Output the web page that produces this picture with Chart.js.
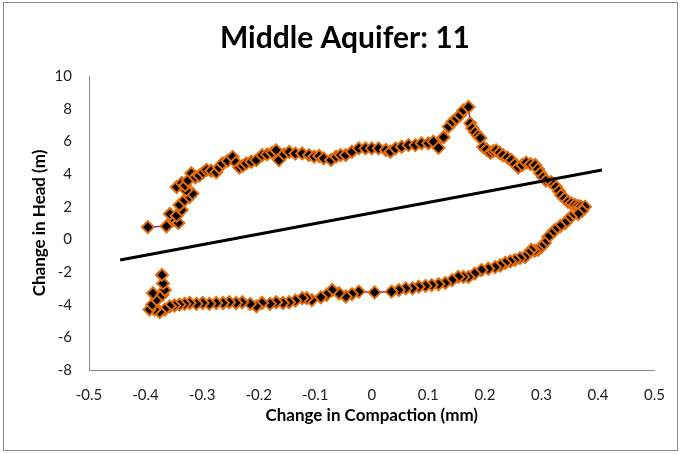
<!DOCTYPE html>
<html>
<head>
<meta charset="utf-8">
<script src="https://cdn.jsdelivr.net/npm/chart.js@4/dist/chart.umd.min.js"></script>
<style>
  body { margin: 0; background: #fff; }
  canvas { display: block; }
</style>
</head>
<body>
<canvas id="loopChart" width="681" height="454"></canvas>
<script>
// Change in compaction (mm) vs change in head (m), in time order
const compaction = [
  -0.396, -0.363, -0.350, -0.342, -0.357, -0.345, -0.336, -0.340, -0.331, -0.322,
  -0.317, -0.328, -0.345, -0.336, -0.330, -0.325, -0.319, -0.312, -0.305, -0.298,
  -0.292, -0.284, -0.275, -0.270, -0.264, -0.255, -0.246, -0.240, -0.234, -0.228,
  -0.222, -0.213, -0.204, -0.194, -0.185, -0.176, -0.169, -0.164, -0.155, -0.146,
  -0.135, -0.123, -0.111, -0.102, -0.093, -0.085, -0.072, -0.063, -0.055, -0.046,
  -0.035, -0.023, -0.011, 0.000, 0.012, 0.025, 0.033, 0.042, 0.053, 0.065,
  0.077, 0.088, 0.100, 0.109, 0.118, 0.127, 0.136, 0.143, 0.150, 0.156,
  0.162, 0.171, 0.174, 0.178, 0.183, 0.188, 0.192, 0.197, 0.203, 0.210,
  0.215, 0.220, 0.226, 0.232, 0.240, 0.247, 0.253, 0.259, 0.266, 0.273,
  0.281, 0.289, 0.294, 0.298, 0.303, 0.308, 0.317, 0.322, 0.326, 0.331,
  0.335, 0.341, 0.347, 0.353, 0.359, 0.365, 0.370, 0.377, 0.372, 0.365,
  0.352, 0.347, 0.342, 0.333, 0.324, 0.318, 0.312, 0.306, 0.300, 0.294,
  0.288, 0.282, 0.277, 0.271, 0.262, 0.253, 0.245, 0.236, 0.227, 0.218,
  0.206, 0.194, 0.182, 0.171, 0.162, 0.153, 0.142, 0.130, 0.118, 0.106,
  0.095, 0.083, 0.072, 0.060, 0.048, 0.035, 0.005, -0.023, -0.035, -0.046,
  -0.058, -0.070, -0.080, -0.090, -0.106, -0.115, -0.123, -0.135, -0.146, -0.157,
  -0.169, -0.180, -0.194, -0.204, -0.215, -0.229, -0.240, -0.252, -0.263, -0.275,
  -0.287, -0.299, -0.310, -0.322, -0.331, -0.340, -0.349, -0.357, -0.366, -0.375,
  -0.384, -0.393, -0.388, -0.380, -0.387, -0.370, -0.366, -0.369, -0.371
];
const head = [
  0.75, 0.80, 1.20, 1.00, 1.55, 1.45, 1.80, 2.10, 2.40, 2.60,
  2.80, 3.00, 3.20, 3.45, 3.30, 3.60, 4.05, 3.80, 3.90, 4.10,
  4.25, 4.20, 4.10, 4.40, 4.65, 4.80, 5.05, 4.70, 4.40, 4.50,
  4.65, 4.75, 4.85, 5.15, 5.20, 5.30, 5.45, 4.85, 5.20, 5.35,
  5.25, 5.26, 5.16, 5.06, 5.10, 4.96, 4.86, 5.06, 5.16, 5.16,
  5.36, 5.57, 5.57, 5.57, 5.57, 5.47, 5.36, 5.57, 5.67, 5.77,
  5.77, 5.88, 5.88, 5.98, 5.60, 6.25, 6.90, 7.20, 7.40, 7.60,
  7.90, 8.10, 7.10, 6.80, 6.55, 6.35, 6.20, 5.65, 5.50, 5.30,
  5.40, 5.45, 5.30, 5.15, 5.00, 4.85, 4.60, 4.40, 4.55, 4.70,
  4.60, 4.55, 4.30, 4.05, 3.80, 3.60, 3.50, 3.35, 3.20, 2.95,
  2.70, 2.50, 2.30, 2.20, 2.10, 2.05, 2.00, 2.00, 1.75, 1.55,
  1.37, 1.20, 1.00, 0.80, 0.57, 0.35, 0.14, -0.23, -0.45, -0.65,
  -0.70, -0.65, -0.85, -1.08, -1.15, -1.27, -1.35, -1.45, -1.60, -1.70,
  -1.80, -1.88, -2.10, -2.30, -2.30, -2.30, -2.50, -2.67, -2.75, -2.80,
  -2.85, -2.90, -3.00, -3.00, -3.10, -3.20, -3.25, -3.20, -3.35, -3.50,
  -3.30, -3.10, -3.40, -3.55, -3.72, -3.60, -3.60, -3.75, -3.85, -3.90,
  -3.85, -3.95, -3.90, -4.10, -3.95, -3.85, -3.90, -3.85, -3.90, -3.90,
  -3.95, -3.90, -3.95, -3.90, -3.95, -4.00, -4.05, -4.10, -4.30, -4.45,
  -4.30, -4.30, -4.00, -3.70, -3.30, -3.40, -3.10, -2.70, -2.18
];

// Linear trend line end points
const trendX = [-0.445, 0.407];
const trendY = [-1.27, 4.24];

const xTicks = [-0.5, -0.4, -0.3, -0.2, -0.1, 0, 0.1, 0.2, 0.3, 0.4, 0.5];
const yTicks = [-8, -6, -4, -2, 0, 2, 4, 6, 8, 10];

const FONT = "Lato, 'Open Sans', sans-serif";

// thin gray frame around the whole chart
const framePlugin = {
  id: 'frame',
  beforeDraw(chart) {
    const ctx = chart.ctx;
    ctx.save();
    ctx.fillStyle = '#fff';
    ctx.fillRect(0, 0, chart.width, chart.height);
    ctx.strokeStyle = '#8a8a8a';
    ctx.lineWidth = 1;
    ctx.strokeRect(3.5, 2.5, 674, 448);
    ctx.restore();
  }
};

const ctx = document.getElementById('loopChart').getContext('2d');
new Chart(ctx, {
  type: 'scatter',
  data: {
    datasets: [
      {
        label: 'Trend',
        data: trendX.map((x, i) => ({ x: x, y: trendY[i] })),
        showLine: true,
        borderColor: '#000',
        borderWidth: 3,
        pointRadius: 0,
        order: 0
      },
      {
        label: 'Middle Aquifer: 11',
        data: compaction.map((x, i) => ({ x: x, y: head[i] })),
        showLine: true,
        borderColor: '#7030A0',
        borderWidth: 1.5,
        pointStyle: 'rectRot',
        pointRadius: 6,
        pointBackgroundColor: '#000',
        pointBorderColor: '#E46C0A',
        pointBorderWidth: 2,
        order: 1
      }
    ]
  },
  options: {
    responsive: false,
    animation: false,
    // left padding pushes the title centre right, like the original
    layout: { padding: { top: 0, right: 24, bottom: 0, left: 33 } },
    plugins: {
      legend: { display: false },
      tooltip: { enabled: false },
      title: {
        display: true,
        text: 'Middle Aquifer: 11',
        color: '#000',
        font: { family: FONT, size: 30, weight: 'bold' },
        padding: { top: 20, bottom: 20 }
      }
    },
    scales: {
      x: {
        type: 'linear',
        min: -0.5,
        max: 0.5,
        afterBuildTicks: (scale) => { scale.ticks = xTicks.map(v => ({ value: v })); },
        afterFit: (scale) => { scale.height = 84; },
        grid: { display: false, drawTicks: false },
        border: { color: '#898989', width: 1 },
        ticks: {
          padding: 16,
          color: '#222',
          font: { family: FONT, size: 15 },
          callback: (v) => String(Math.round(v * 10) / 10)
        },
        title: {
          display: true,
          text: 'Change in Compaction (mm)',
          color: '#000',
          font: { family: FONT, size: 17, weight: 'bold' },
          padding: { top: 0, bottom: 28 }
        }
      },
      y: {
        type: 'linear',
        min: -8,
        max: 10,
        afterBuildTicks: (scale) => { scale.ticks = yTicks.map(v => ({ value: v })); },
        afterFit: (scale) => { scale.width = 56; },
        grid: { display: false, drawTicks: false },
        border: { color: '#898989', width: 1 },
        ticks: {
          padding: 17,
          color: '#222',
          font: { family: FONT, size: 15 }
        },
        title: {
          display: true,
          text: 'Change in Head (m)',
          color: '#000',
          font: { family: FONT, size: 17, weight: 'bold' },
          padding: { top: -4, bottom: 0 }
        }
      }
    }
  },
  plugins: [framePlugin]
});
</script>
</body>
</html>
